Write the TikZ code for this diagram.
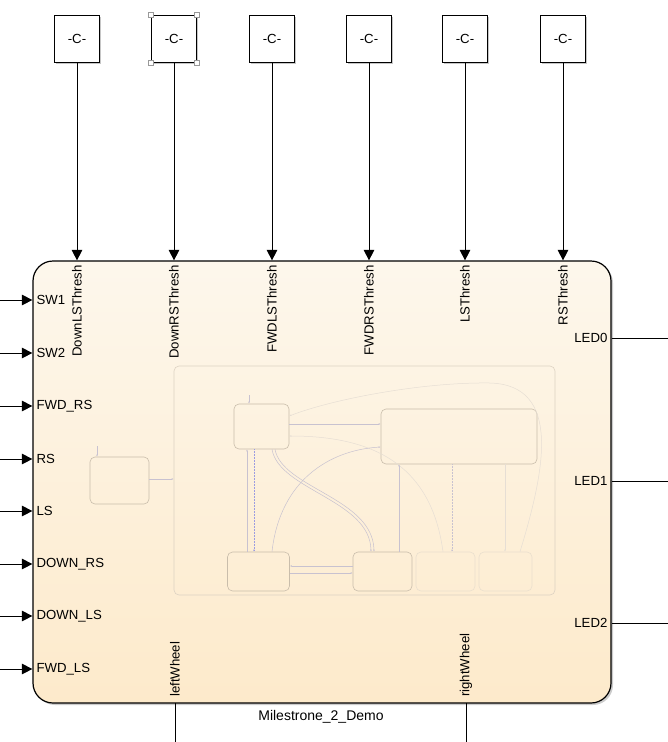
\documentclass[tikz,border=0pt]{standalone}
\usepackage{fontspec}
\setmainfont{Liberation Sans}
\usetikzlibrary{arrows.meta,shadows}
\definecolor{blktop}{HTML}{FDF7EC}
\definecolor{blkbot}{HTML}{FDEACB}
\definecolor{chartln}{HTML}{DDD2C2}
\definecolor{stln}{HTML}{C9BDAB}
\definecolor{stfaint}{HTML}{EADFCE}
\definecolor{trn}{HTML}{C8C2D0}
\definecolor{trnfaint}{HTML}{E6DED4}
\definecolor{dotblue}{HTML}{9C9CE0}
\tikzset{
  cbox/.style={draw, line width=1pt, fill=white, minimum width=45pt, minimum height=47pt, inner sep=0pt,
    drop shadow={shadow xshift=1.5pt, shadow yshift=-1.5pt, opacity=0.45}},
  handle/.style={draw=gray!80, fill=white, line width=0.6pt, minimum size=5pt, inner sep=0pt},
  arr/.style={line width=0.9pt, -{Triangle[length=10.5pt,width=10.5pt]}},
  wire/.style={line width=0.9pt},
  st/.style={draw=stln, line width=0.6pt, rounded corners=5pt, inner sep=0pt},
  stf/.style={draw=stfaint, line width=0.6pt, rounded corners=5pt, inner sep=0pt},
  tr/.style={draw=trn, line width=0.5pt, -{Latex[length=2pt,width=1.6pt]}},
  trf/.style={draw=trnfaint, line width=0.5pt, -{Latex[length=2pt,width=1.6pt]}},
}
\begin{document}
\begin{tikzpicture}[x=1pt,y=-1pt,font=\fontsize{13.2}{15}\selectfont]
\useasboundingbox (0,0) rectangle (668,742);

% main chart block
\node[draw, line width=1.2pt, rounded corners=20pt, minimum width=578pt, minimum height=442pt,
  top color=blktop, bottom color=blkbot, inner sep=0pt,
  drop shadow={shadow xshift=2pt, shadow yshift=-2pt, opacity=0.4}] (blk) at (322,482) {};
\node[font=\fontsize{14}{16}\selectfont] (bname) at (321,717) {Milestrone\_2\_Demo};

% constant blocks
\foreach \i/\x in {1/77,2/174,3/272,4/369,5/465,6/563}{
  \node[cbox] (k\i) at (\x,38.5) {-C-};
}
\foreach \a in {north west,north east,south west,south east}{
  \node[handle] at (k2.\a) {};
}

% top inputs
\foreach \i/\lab in {1/DownLSThresh,2/DownRSThresh,3/FWDLSThresh,4/FWDRSThresh,5/LSThresh,6/RSThresh}{
  \coordinate (t\i) at (k\i.south |- blk.north);
  \draw[arr] (k\i.south) -- (t\i);
  \node[rotate=90, anchor=east, inner sep=0pt] (tl\i) at ([yshift=-5pt]t\i) {\lab};
}

% left inputs
\foreach \i/\y/\lab in {1/300/SW1,2/353/SW2,3/406/FWD\_RS,4/459/RS,5/511/LS,6/564/DOWN\_RS,7/616/DOWN\_LS,8/669/FWD\_LS}{
  \coordinate (s\i) at (0,\y);
  \coordinate (p\i) at (blk.west |- s\i);
  \draw[arr] (s\i) -- (p\i);
  \node[anchor=west, inner sep=0pt] (pl\i) at ([xshift=4pt]p\i) {\lab};
}

% right outputs
\foreach \i/\y in {0/338,1/481,2/623}{
  \coordinate (o\i) at (blk.east |- 0,\y);
  \coordinate (oe\i) at (668,\y);
  \draw[wire] (o\i) -- (oe\i);
  \node[anchor=east, inner sep=0pt] (ol\i) at ([xshift=-4pt]o\i) {LED\i};
}

% bottom outputs
\foreach \n/\x/\lab in {l/175/leftWheel,r/466/rightWheel}{
  \coordinate (b\n) at (\x,703);
  \coordinate (be\n) at (\x,742);
  \draw[wire] (b\n) -- (be\n);
  \node[rotate=90, anchor=west, inner sep=0pt] (bl\n) at (\x,697) {\lab};
}

% inner chart thumbnail
\node[draw=chartln, line width=0.6pt, rounded corners=5pt, minimum width=381pt, minimum height=229pt, inner sep=0pt] (ch) at (364.5,480.5) {};
\node[st, minimum width=59pt, minimum height=47pt] (sL) at (119.5,480.5) {};
\node[st, minimum width=55pt, minimum height=45pt] (sA) at (261.5,426.5) {};
\node[st, minimum width=156pt, minimum height=55pt] (sB) at (459,436.5) {};
\node[st, minimum width=62pt, minimum height=39pt] (sC) at (258.5,571.5) {};
\node[st, minimum width=59pt, minimum height=39pt] (sD) at (382.5,571.5) {};
\node[stf, minimum width=59pt, minimum height=39pt] (sE) at (445.5,571.5) {};
\node[stf, minimum width=53pt, minimum height=39pt] (sF) at (505.5,571.5) {};

\coordinate (dL) at (97,446);
\coordinate (dA) at (249,395);
\draw[tr] (dL) -- (dL |- sL.north);
\draw[tr] (dA) -- (dA |- sA.north);
\draw[tr] (sL.east |- 0,479) -- (ch.west |- 0,479);

\draw[tr] (sA.east |- 0,424) -- (sB.west |- 0,424);
\draw[trf] (sF.north -| 520,0) .. controls (545,470) and (562,385) .. (490,383)
   .. controls (420,382) and (330,400) .. (sA.east |- 0,416);
\draw[trf] (sE.north -| 443,0) .. controls (432,470) and (380,436) .. (sA.east |- 0,436);
\draw[tr] (sC.north -| 272,0) .. controls (280,480) and (330,450) .. (sB.west |- 0,447);
\draw[tr] (sA.south -| 272,0) .. controls (279,490) and (370,500) .. (sD.north -| 371,0);
\draw[tr] (sA.south -| 275,0) .. controls (282,488) and (373,498) .. (sD.north -| 374,0);

\draw[tr] (sC.north -| 247,0) -- (sA.south -| 247,0);
\draw[draw=dotblue, line width=0.5pt, densely dotted, -{Latex[length=2pt,width=1.6pt]}] (sA.south -| 254,0) -- (sC.north -| 254,0);
\draw[tr] (sD.west |- 0,566) -- (sC.east |- 0,566);
\draw[tr] (sC.east |- 0,573) -- (sD.west |- 0,573);
\draw[tr] (sD.north -| 399,0) -- (sB.south -| 399,0);
\draw[draw=trn, line width=0.5pt, densely dotted, -{Latex[length=2pt,width=1.6pt]}] (sB.south -| 452,0) -- (sE.north -| 452,0);
\draw[trf] (sB.south -| 505,0) -- (sF.north -| 505,0);
\end{tikzpicture}
\end{document}
